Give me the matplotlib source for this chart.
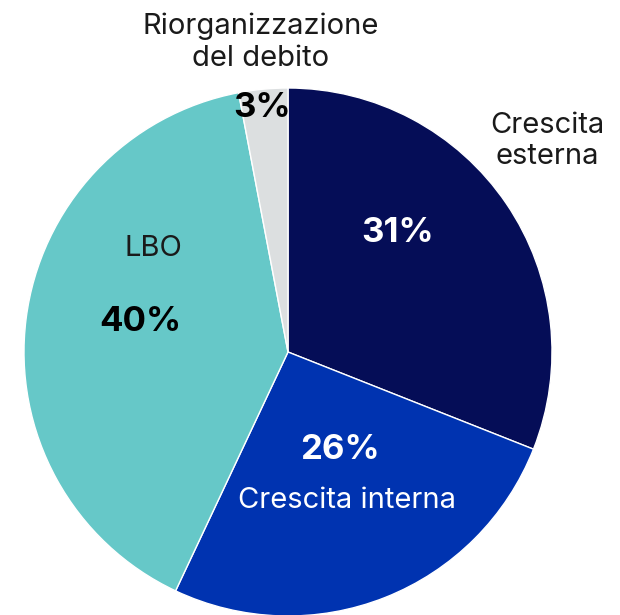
import matplotlib
matplotlib.use("Agg")
import matplotlib.pyplot as plt

plt.rcParams['font.family'] = ['Inter', 'DejaVu Sans']

labels = ["Crescita esterna", "Crescita interna", "LBO", "Riorganizzazione del debito"]
shares = [31, 26, 40, 3]
colors = ["#050d57", "#0033b0", "#66c8c8", "#dcdfe0"]

W, H = 620, 615
fig = plt.figure(figsize=(W / 100, H / 100), dpi=100)

# pie centre at (288, 352) px from top-left, radius 264 px
cx, cy, r = 288, 352, 264
ax = fig.add_axes([(cx - r) / W, (H - cy - r) / H, 2 * r / W, 2 * r / H])
ax.pie(shares, colors=colors, startangle=90, counterclock=False,
       wedgeprops=dict(edgecolor="white", linewidth=1))
ax.set_xlim(-1, 1)
ax.set_ylim(-1, 1)
ax.set_aspect("equal")
ax.axis("off")


def txt(x, y, s, **kw):
    fig.text(x / W, 1 - y / H, s, ha="center", va="center", **kw)


pct = [f"{v}%" for v in shares]
lab_size = 21
pct_size = 25

txt(261, 42, "Riorganizzazione\ndel debito", fontsize=lab_size, color="#1a1a1a", linespacing=1.22)
txt(547, 141, "Crescita\nesterna", fontsize=lab_size, color="#1a1a1a", linespacing=1.22)
txt(262, 108, pct[3], fontsize=pct_size, fontweight="bold", color="black")
txt(398, 233, pct[0], fontsize=pct_size, fontweight="bold", color="white")
txt(340, 450, pct[1], fontsize=pct_size, fontweight="bold", color="white")
txt(347, 500, labels[1], fontsize=lab_size, color="white")
txt(153, 248, labels[2], fontsize=lab_size, color="#1a1a1a")
txt(140, 322, pct[2], fontsize=pct_size, fontweight="bold", color="black")

fig.savefig("out.png", dpi=100)
